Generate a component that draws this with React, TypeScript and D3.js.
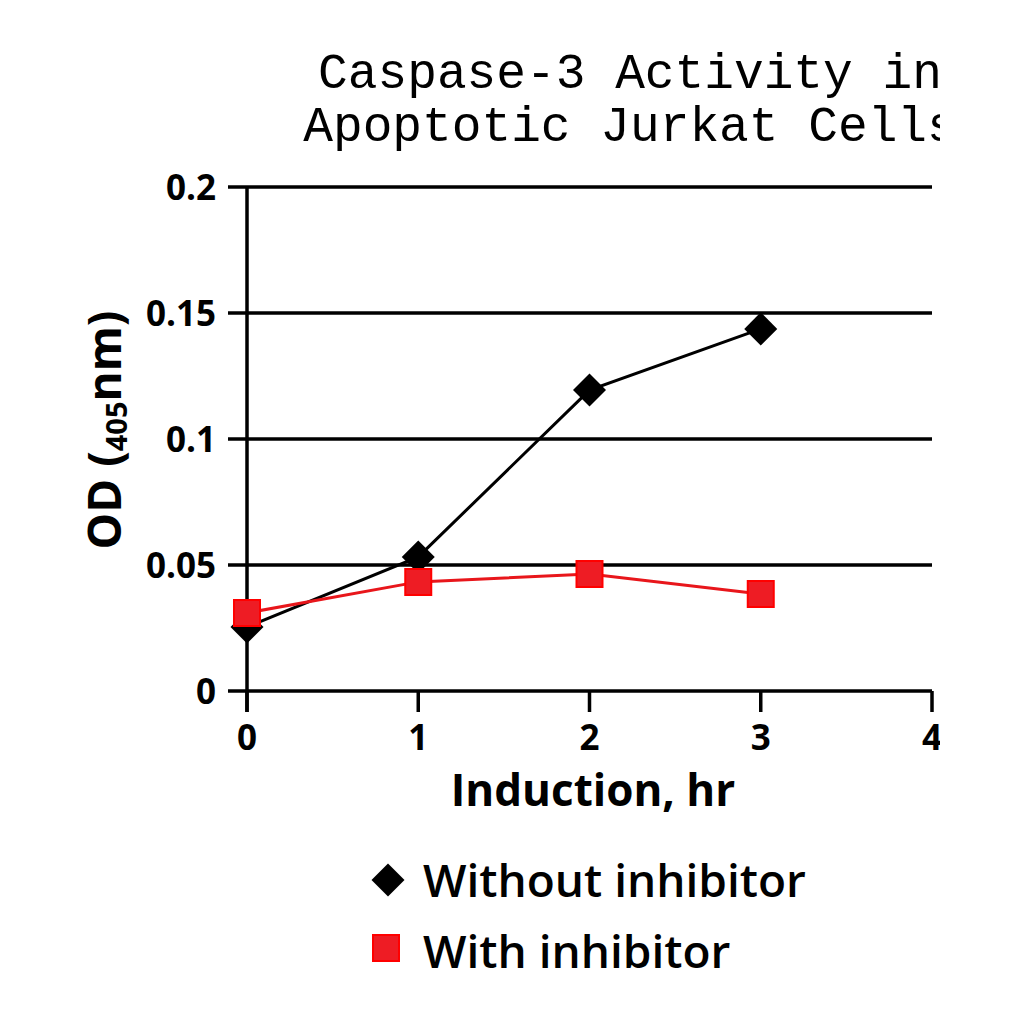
import { useEffect, useRef } from "react";
import * as d3 from "d3";

const hours = [0, 1, 2, 3];
const withoutInhibitor = [0.0254, 0.0532, 0.1194, 0.1437];
const withInhibitor = [0.031, 0.0433, 0.0464, 0.0385];
const xTicks = [0, 1, 2, 3, 4];
const yTicks = [0, 0.05, 0.1, 0.15, 0.2];
const yTickLabels = ["0", "0.05", "0.1", "0.15", "0.2"];
const titleLines = ["Caspase-3 Activity in", "Apoptotic Jurkat Cells"];

const WIDTH = 1024;
const HEIGHT = 1024;
const SANS = "'Open Sans', 'Noto Sans', sans-serif";
const RED = "#ee1c24";

const App = () => {
  const svgRef = useRef<SVGSVGElement>(null);

  useEffect(() => {
    if (!svgRef.current) return;
    const svg = d3.select(svgRef.current);
    svg.selectAll("*").remove();

    const x = d3.scaleLinear().domain([0, 4]).range([247, 932]);
    const y = d3.scaleLinear().domain([0, 0.2]).range([691, 187]);

    svg
      .append("defs")
      .append("clipPath")
      .attr("id", "clip")
      .append("rect")
      .attr("x", 0)
      .attr("y", 0)
      .attr("width", 940)
      .attr("height", HEIGHT);

    const g = svg.append("g").attr("clip-path", "url(#clip)");

    // title
    g.append("text")
      .attr("font-family", "'Liberation Mono', 'Courier New', monospace")
      .attr("font-size", 49.5)
      .attr("text-anchor", "middle")
      .selectAll("tspan")
      .data(titleLines)
      .join("tspan")
      .attr("x", 630)
      .attr("y", (d, i) => 88 + i * 53)
      .text((d) => d);

    // gridlines + y ticks
    g.append("g")
      .selectAll("line")
      .data(yTicks)
      .join("line")
      .attr("x1", 228)
      .attr("x2", x(4))
      .attr("y1", (d) => y(d))
      .attr("y2", (d) => y(d))
      .attr("stroke", "#000")
      .attr("stroke-width", 3.5);

    // y axis line
    g.append("line")
      .attr("x1", x(0))
      .attr("x2", x(0))
      .attr("y1", y(0.2))
      .attr("y2", y(0) + 21)
      .attr("stroke", "#000")
      .attr("stroke-width", 3.5);

    // x ticks
    g.append("g")
      .selectAll("line")
      .data(xTicks)
      .join("line")
      .attr("x1", (d) => x(d))
      .attr("x2", (d) => x(d))
      .attr("y1", y(0))
      .attr("y2", y(0) + 21)
      .attr("stroke", "#000")
      .attr("stroke-width", 3.5);

    g.append("g")
      .attr("font-family", SANS)
      .attr("font-weight", "bold")
      .attr("font-size", 35)
      .attr("text-anchor", "middle")
      .selectAll("text")
      .data(xTicks)
      .join("text")
      .attr("x", (d) => x(d))
      .attr("y", 750)
      .text((d) => d);

    g.append("g")
      .attr("font-family", SANS)
      .attr("font-weight", "bold")
      .attr("font-size", 35)
      .attr("text-anchor", "end")
      .selectAll("text")
      .data(yTicks)
      .join("text")
      .attr("x", 216)
      .attr("y", (d) => y(d) + 12.5)
      .text((d, i) => yTickLabels[i]);

    // axis titles
    g.append("text")
      .attr("font-family", SANS)
      .attr("font-weight", "bold")
      .attr("font-size", 44)
      .attr("text-anchor", "middle")
      .attr("x", 593)
      .attr("y", 806)
      .text("Induction, hr");

    const yLabel = g
      .append("text")
      .attr("font-family", SANS)
      .attr("font-weight", "bold")
      .attr("font-size", 46)
      .attr("text-anchor", "middle")
      .attr("transform", "translate(121,430) rotate(-90)");
    yLabel.append("tspan").text("OD (");
    yLabel.append("tspan").attr("font-size", 29).attr("dy", 6).text("405");
    yLabel.append("tspan").attr("dy", -6).text("nm)");

    // series
    const line = d3
      .line<number>()
      .x((d, i) => x(hours[i]))
      .y((d) => y(d));

    g.append("path")
      .attr("d", line(withoutInhibitor))
      .attr("fill", "none")
      .attr("stroke", "#000")
      .attr("stroke-width", 3);

    const diamond = d3.symbol(d3.symbolSquare, 545);
    g.append("g")
      .selectAll("path")
      .data(withoutInhibitor)
      .join("path")
      .attr("d", diamond)
      .attr("transform", (d, i) => `translate(${x(hours[i])},${y(d)}) rotate(45)`)
      .attr("fill", "#000");

    g.append("path")
      .attr("d", line(withInhibitor))
      .attr("fill", "none")
      .attr("stroke", "#e8161b")
      .attr("stroke-width", 3);

    const square = d3.symbol(d3.symbolSquare, 26 * 26);
    g.append("g")
      .selectAll("path")
      .data(withInhibitor)
      .join("path")
      .attr("d", square)
      .attr("transform", (d, i) => `translate(${x(hours[i])},${y(d)})`)
      .attr("fill", RED)
      .attr("stroke", "#ff0000")
      .attr("stroke-width", 2);

    // legend
    const legend = svg
      .append("g")
      .attr("font-family", SANS)
      .attr("font-weight", 600)
      .attr("font-size", 46);

    legend
      .append("path")
      .attr("d", diamond)
      .attr("transform", "translate(388,880) rotate(45)")
      .attr("fill", "#000");
    legend
      .append("text")
      .attr("x", 423)
      .attr("y", 897)
      .text("Without inhibitor");

    legend
      .append("path")
      .attr("d", square)
      .attr("transform", "translate(386,948)")
      .attr("fill", RED)
      .attr("stroke", "#ff0000")
      .attr("stroke-width", 2);
    legend
      .append("text")
      .attr("x", 423)
      .attr("y", 968)
      .text("With inhibitor");
  }, []);

  return (
    <svg
      ref={svgRef}
      width={WIDTH}
      height={HEIGHT}
      style={{ position: "absolute", left: 0, top: 0, background: "#fff" }}
    />
  );
};

export default App;
